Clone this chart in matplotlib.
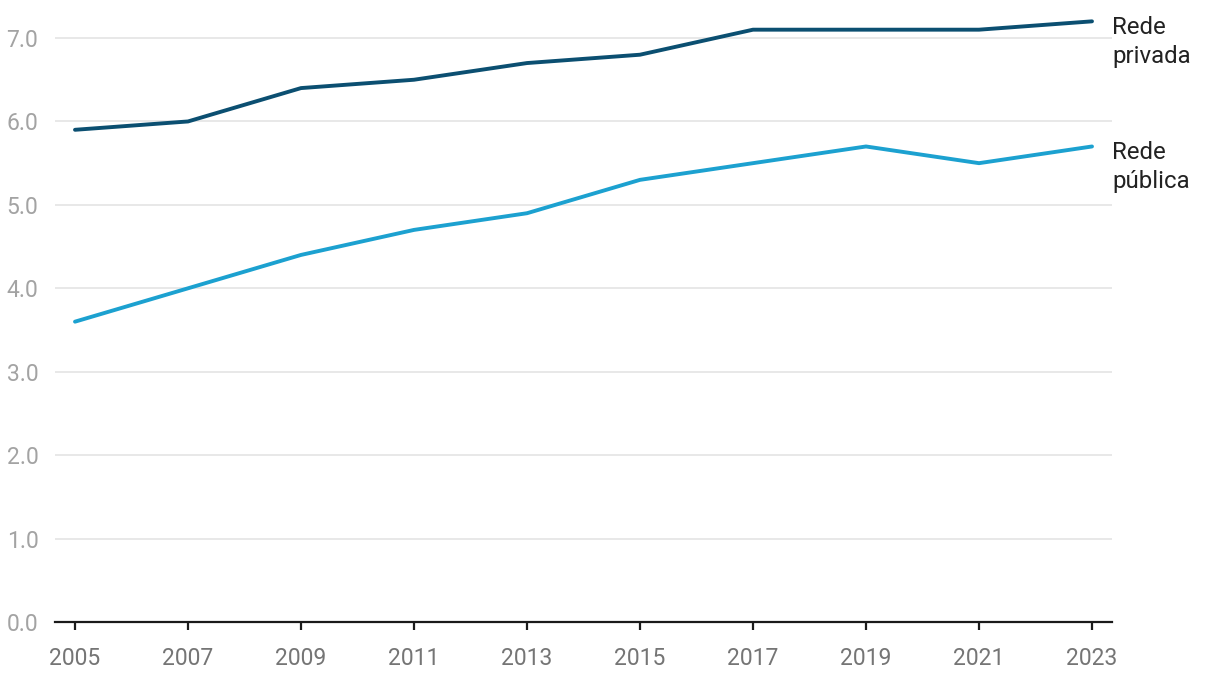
import matplotlib
matplotlib.use("Agg")
import matplotlib.pyplot as plt
import matplotlib.transforms as mtransforms

# ============================================
# DATA
# ============================================
years = [2005, 2007, 2009, 2011, 2013, 2015, 2017, 2019, 2021, 2023]
rede_privada = [5.9, 6.0, 6.4, 6.5, 6.7, 6.8, 7.1, 7.1, 7.1, 7.2]
rede_publica = [3.6, 4.0, 4.4, 4.7, 4.9, 5.3, 5.5, 5.7, 5.5, 5.7]
y_ticks = [0, 1, 2, 3, 4, 5, 6, 7]
labels = ["Rede\nprivada", "Rede\npública"]

DARK = "#0b4f71"
LIGHT = "#1ca1d0"

plt.rcParams['font.family'] = ['Roboto', 'DejaVu Sans']

fig = plt.figure(figsize=(12.2, 6.82), dpi=100)
ax = fig.add_axes([55 / 1220, 60 / 682, (1112 - 55) / 1220, (622 - 13) / 682])

ax.plot(years, rede_privada, color=DARK, linewidth=2.8, solid_capstyle='round', zorder=3)
ax.plot(years, rede_publica, color=LIGHT, linewidth=2.8, solid_capstyle='round', zorder=3)

ax.set_xlim(2004.646, 2023.354)
ax.set_ylim(0, 7.3)
ax.set_xticks(years)
ax.set_xticklabels([str(y) for y in years])
ax.set_yticks(y_ticks)
ax.set_yticklabels([f"{v:.1f}" for v in y_ticks])

ax.grid(axis='y', color='#e2e2e2', linewidth=1.1, zorder=0)
ax.set_axisbelow(True)
for side in ['top', 'right', 'left']:
    ax.spines[side].set_visible(False)
ax.spines['bottom'].set_color('#1a1a1a')
ax.spines['bottom'].set_linewidth(1.6)

ax.tick_params(axis='x', length=6, width=1.6, color='#1a1a1a', labelsize=16.5,
               labelcolor='#757575', pad=12)
ax.tick_params(axis='y', length=0, labelsize=16.5, labelcolor='#a3a3a3', pad=12)

# end labels to the right of the plot
trans = mtransforms.blended_transform_factory(ax.transAxes, ax.transData)
for text, series in zip(labels, [rede_privada, rede_publica]):
    ax.text(1.0, series[-1] + 0.06, text, transform=trans, ha='left', va='top',
            fontsize=17.3, color='#222222', linespacing=1.3, clip_on=False)

fig.savefig("out.png", dpi=100)
